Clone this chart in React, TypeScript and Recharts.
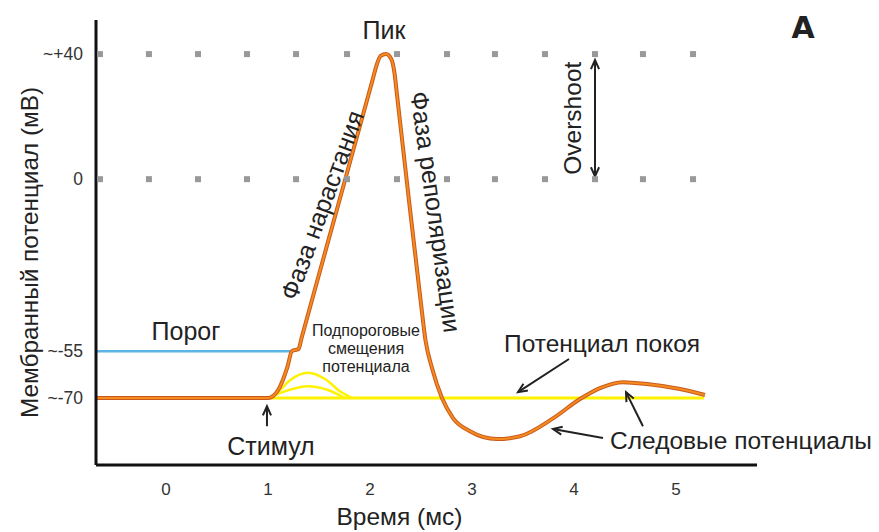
import React from 'react';
import {
  ComposedChart,
  Line,
  Scatter,
  XAxis,
  YAxis,
  ReferenceLine,
  ReferenceDot,
} from 'recharts';

// [time (ms), membrane potential (mV)]
const ACTION_POTENTIAL: [number, number][] = [
  [-0.68, -70], [1.0, -70], [1.1, -67.4], [1.19, -60.1], [1.235, -55], [1.3, -54.3],
  [1.33, -50.7], [1.69, -8], [2.03, 32.3], [2.065, 36.5], [2.105, 39.4], [2.157, 40],
  [2.21, 38.3], [2.24, 34], [2.265, 26.9], [2.382, -6.7], [2.496, -38.7], [2.544, -51.5],
  [2.608, -60.4], [2.706, -70], [2.814, -76.4], [2.98, -80.6], [3.245, -83.1],
  [3.471, -82.2], [3.794, -76.5], [4.059, -70.3], [4.255, -66.8], [4.48, -64.9],
  [4.716, -65.5], [5.039, -67.1], [5.284, -69],
];
const RESTING_LEVEL: [number, number][] = [[-0.68, -70], [5.275, -70]];
const THRESHOLD_LEVEL: [number, number][] = [[-0.68, -55], [1.235, -55]];
const SUBTHRESHOLD_HIGH: [number, number][] = [
  [1.0, -70], [1.098, -68.1], [1.216, -64.3], [1.392, -61.9], [1.559, -63.9], [1.706, -67.8], [1.824, -70],
];
const SUBTHRESHOLD_LOW: [number, number][] = [
  [1.0, -70], [1.167, -67.8], [1.392, -66.2], [1.588, -67.4], [1.755, -70],
];

// decorative dotted guides at 0 and +40
const DOT_TIMES = [-0.647, -0.167, 0.314, 0.794, 1.275, 1.775, 2.265, 2.755, 3.225, 3.716, 4.206, 4.676, 5.167];
const DOT_LEVELS = [0, 40];

const X_TICKS = [0, 1, 2, 3, 4, 5];
const Y_TICKS = [-70, -55, 0, 40];
const Y_TICK_LABELS = ['~-70', '~-55', '0', '~+40'];

type Note = { lines: string[]; t: number; v: number; angle?: number; size: number; bold?: boolean };
const NOTES: Note[] = [
  { lines: ['Пик'], t: 2.137, v: 47.7, size: 25 },
  { lines: ['Порог'], t: 0.196, v: -48.6, size: 25 },
  { lines: ['Стимул'], t: 1.029, v: -85.4, size: 25 },
  { lines: ['Потенциал покоя'], t: 4.275, v: -52.4, size: 24.5 },
  { lines: ['Следовые потенциалы'], t: 5.637, v: -83.4, size: 24.5 },
  { lines: ['Подпороговые', 'смещения', 'потенциала'], t: 1.961, v: -54.0, size: 16 },
  { lines: ['Фаза нарастания'], t: 1.529, v: -8.3, angle: -70, size: 25 },
  { lines: ['Фаза реполяризации'], t: 2.647, v: -10.5, angle: 82, size: 25 },
  { lines: ['Overshoot'], t: 3.98, v: 19.5, angle: -90, size: 24.5 },
  { lines: ['A'], t: 6.245, v: 48.6, size: 30, bold: true },
];

type Arrow = { from: [number, number]; to: [number, number]; both?: boolean };
const ARROWS: Arrow[] = [
  { from: [0.99, -79], to: [0.99, -72.6] },
  { from: [3.951, -57.5], to: [3.451, -68.1] },
  { from: [4.284, -82.8], to: [3.794, -79.9] },
  { from: [4.676, -79.0], to: [4.51, -68.1] },
  { from: [4.206, 0.9], to: [4.206, 38.1], both: true },
];

const toPoints = (pts: [number, number][]) => pts.map(([t, v]) => ({ t, v }));
const dotData = DOT_TIMES.flatMap((t) => DOT_LEVELS.map((v) => ({ t, v })));

const INK = '#222';

function headPath(x: number, y: number, ang: number) {
  const l = 10;
  const s = 0.42;
  return `M${x - l * Math.cos(ang - s)},${y - l * Math.sin(ang - s)} L${x},${y} L${x - l * Math.cos(ang + s)},${y - l * Math.sin(ang + s)}`;
}

const arrowShape = (both?: boolean) => (p: any) => {
  const { x1, y1, x2, y2 } = p;
  const a = Math.atan2(y2 - y1, x2 - x1);
  let d = headPath(x2, y2, a);
  if (both) d += ' ' + headPath(x1, y1, a + Math.PI);
  return (
    <g>
      <line x1={x1} y1={y1} x2={x2} y2={y2} stroke={INK} strokeWidth={2} />
      <path d={d} fill="none" stroke={INK} strokeWidth={2} />
    </g>
  );
};

const noteShape = (n: Note) => (p: any) => {
  const { cx, cy } = p;
  const lh = n.size * 1.13;
  const first = -((n.lines.length - 1) * lh) / 2;
  return (
    <text
      x={cx}
      y={cy}
      textAnchor="middle"
      dominantBaseline="central"
      fontSize={n.size}
      fontWeight={n.bold ? 700 : 400}
      fontFamily={n.bold ? 'DejaVu Sans' : undefined}
      fill={INK}
      transform={n.angle ? `rotate(${n.angle} ${cx} ${cy})` : undefined}
    >
      {n.lines.map((line, i) => (
        <tspan key={i} x={cx} dy={i === 0 ? first : lh}>
          {line}
        </tspan>
      ))}
    </text>
  );
};

const squareDot = (p: any) => <rect x={p.cx - 3} y={p.cy - 3} width={6} height={6} fill="#999" />;

export default function App() {
  return (
    <div style={{ position: 'absolute', left: 0, top: 0, fontFamily: '"Liberation Sans", Arial, sans-serif', background: '#fff' }}>
      <ComposedChart width={879} height={532} margin={{ top: 20, right: 122, bottom: 7, left: 0 }}>
        <XAxis
          dataKey="t"
          type="number"
          domain={[-0.686, 5.794]}
          ticks={X_TICKS}
          allowDataOverflow
          height={60}
          axisLine={{ stroke: '#111', strokeWidth: 3 }}
          tickLine={false}
          tickSize={0}
          tickMargin={18}
          tick={{ fill: '#333', fontSize: 17 }}
          label={{
            content: ({ viewBox }: any) => (
              <text x={viewBox.x + viewBox.width / 2 - 27} y={viewBox.y + 60} textAnchor="middle" fontSize={24.5} fill={INK}>
                Время (мс)
              </text>
            ),
          }}
        />
        <YAxis
          dataKey="v"
          type="number"
          domain={[-91.4, 50.9]}
          ticks={Y_TICKS}
          tickFormatter={(v: number) => Y_TICK_LABELS[Y_TICKS.indexOf(v)]}
          allowDataOverflow
          width={96}
          axisLine={{ stroke: '#111', strokeWidth: 3 }}
          tickLine={false}
          tickSize={0}
          tickMargin={13}
          tick={{ fill: '#333', fontSize: 17.5 }}
          label={{
            content: ({ viewBox }: any) => {
              const cy = viewBox.y + viewBox.height / 2 + 10;
              return (
                <text x={29} y={cy} textAnchor="middle" dominantBaseline="central" fontSize={24.3} fill={INK} transform={`rotate(-90 29 ${cy})`}>
                  Мембранный потенциал (мВ)
                </text>
              );
            },
          }}
        />
        <Scatter data={dotData} dataKey="v" shape={squareDot} isAnimationActive={false} />
        <Line data={toPoints(RESTING_LEVEL)} dataKey="v" type="linear" stroke="#fff200" strokeWidth={3} dot={false} isAnimationActive={false} />
        <Line data={toPoints(SUBTHRESHOLD_HIGH)} dataKey="v" type="monotone" stroke="#fff200" strokeWidth={2.5} dot={false} isAnimationActive={false} />
        <Line data={toPoints(SUBTHRESHOLD_LOW)} dataKey="v" type="monotone" stroke="#fff200" strokeWidth={2.5} dot={false} isAnimationActive={false} />
        <Line data={toPoints(THRESHOLD_LEVEL)} dataKey="v" type="linear" stroke="#5ab4e6" strokeWidth={2.5} dot={false} isAnimationActive={false} />
        <Line data={toPoints(ACTION_POTENTIAL)} dataKey="v" type="monotone" stroke="#c85a1c" strokeWidth={4} dot={false} isAnimationActive={false} />
        <Line data={toPoints(ACTION_POTENTIAL)} dataKey="v" type="monotone" stroke="#f58a1f" strokeWidth={2} dot={false} isAnimationActive={false} />
        {ARROWS.map((a, i) => (
          <ReferenceLine key={`a${i}`} segment={[{ x: a.from[0], y: a.from[1] }, { x: a.to[0], y: a.to[1] }]} ifOverflow="visible" shape={arrowShape(a.both)} />
        ))}
        {NOTES.map((n, i) => (
          <ReferenceDot key={`n${i}`} x={n.t} y={n.v} r={0} ifOverflow="visible" shape={noteShape(n)} />
        ))}
      </ComposedChart>
    </div>
  );
}
